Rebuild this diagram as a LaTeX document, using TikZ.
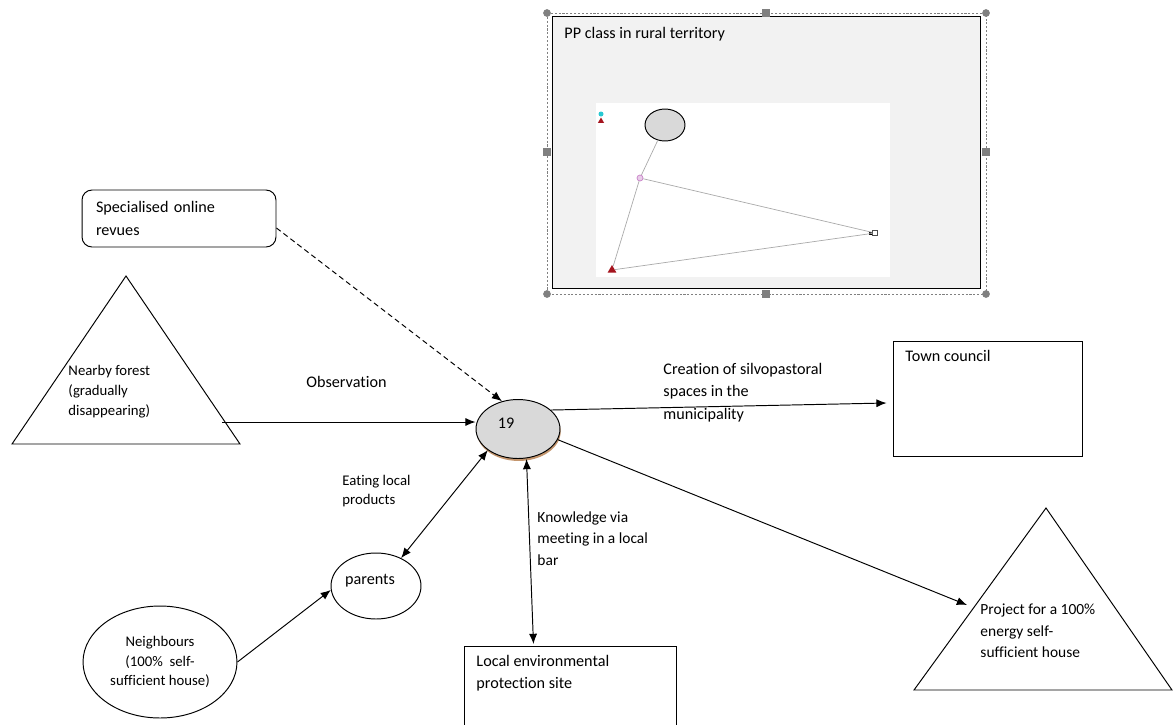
\documentclass[tikz,border=0pt]{standalone}
\usepackage{fontspec}
\setmainfont{Carlito}[Ligatures=CommonOff]
\usetikzlibrary{arrows.meta,shapes.geometric,shadows}

\definecolor{panelgray}{RGB}{242,242,242}
\definecolor{nodegray}{RGB}{217,217,217}
\definecolor{handlegray}{RGB}{128,128,128}
\definecolor{shadowtan}{RGB}{196,150,110}
\definecolor{keycyan}{RGB}{40,200,210}
\definecolor{markred}{RGB}{165,20,30}
\definecolor{markpink}{RGB}{200,130,200}
\definecolor{edgegray}{RGB}{170,170,170}

\begin{document}
\begin{tikzpicture}[x=0.02cm,y=-0.02cm,>={Latex[length=5.8pt,width=4.6pt]},line width=0.55pt,
    big/.style={font=\fontsize{9.2}{12.7}\selectfont},
    mid/.style={font=\fontsize{8.8}{12.2}\selectfont},
    small/.style={font=\fontsize{8.4}{11.2}\selectfont},
    txt/.style={inner sep=0pt,align=left,anchor=west},
    box/.style={draw,rectangle,inner sep=0pt},
    oval/.style={draw,ellipse,inner sep=0pt},
    handle/.style={fill=handlegray}]

  \useasboundingbox (0,0) rectangle (1173,724);

  % selected picture of the class network
  \draw[gray,line width=0.4pt,dash pattern=on 1.2pt off 1pt] (547,13) rectangle (986,294);
  \node[box,fill=panelgray,minimum width=8.56cm,minimum height=5.44cm,anchor=north west] (panel) at (552,16) {};
  \node[txt,big] (panel-title) at (564,34) {PP class in rural territory};
  \node[fill=white,inner sep=0pt,minimum width=5.88cm,minimum height=3.48cm,anchor=north west] (graph) at (596,103) {};

  \node[oval,fill=nodegray,minimum width=0.8cm,minimum height=0.64cm] (g-ego) at (665,125) {};
  \node[circle,fill=keycyan,inner sep=0pt,minimum size=0.1cm] (g-key1) at (601,114) {};
  \node[regular polygon,regular polygon sides=3,fill=markred,inner sep=0pt,minimum size=0.14cm] (g-key2) at (601,121) {};
  \node[circle,draw=markpink,fill=markpink!40,inner sep=0pt,minimum size=0.12cm,line width=0.4pt] (g-alter) at (640,178) {};
  \node[rectangle,draw=black!70,fill=white,inner sep=0pt,minimum size=0.1cm,line width=0.3pt] (g-hub) at (875,233) {};
  \fill (869,231.5) rectangle (872,234.5);
  \node[regular polygon,regular polygon sides=3,fill=markred,inner sep=0pt,minimum size=0.2cm] (g-far) at (612,270) {};
  \draw[edgegray,line width=0.4pt] (g-ego) -- (g-alter) -- (g-far) -- (g-hub) -- (g-alter);

  \foreach \x/\y in {547/13,986/13,547/294,986/294}
    \fill[handle] (\x,\y) circle (2.2pt);
  \foreach \x/\y in {766/13,547/152,986/152,766/294}
    \fill[handle] ([shift={(-2.2pt,-2.2pt)}]\x,\y) rectangle ++(4.4pt,4.4pt);

  % actors and places
  \node[box,rounded corners=0.2cm,big,text width=3.32cm,align=left,inner xsep=0.28cm,minimum height=1.14cm] (revues) at (179,218.5) {Specialised online\\revues};

  \coordinate (forest-top) at (126,276);
  \coordinate (forest-left) at (12,444);
  \coordinate (forest-right) at (240,444);
  \draw (forest-top) -- (forest-right) -- (forest-left) -- cycle;
  \node[txt,small] (forest) at (68,391.5) {Nearby forest\\(gradually\\disappearing)};
  \coordinate (forest-out) at (222,422);

  \node[oval,fill=nodegray,minimum width=1.68cm,minimum height=1.18cm,big,
        drop shadow={shadow xshift=0.4pt,shadow yshift=-1.4pt,fill=shadowtan,opacity=1}] (ego) at (518,429) {\raisebox{0.24cm}{19}\kern0.48cm};

  \node[box,minimum width=3.78cm,minimum height=2.3cm] (council) at (987.5,398.5) {};
  \node[txt,big] (council-txt) at (905,356) {Town council};

  \coordinate (house-top) at (1046,508);
  \coordinate (house-left) at (914,690);
  \coordinate (house-right) at (1172,690);
  \draw (house-top) -- (house-right) -- (house-left) -- cycle;
  \node[txt,mid] (house) at (980,631) {Project for a 100\%\\energy self-\\sufficient house};
  \coordinate (house-in) at (967,605);

  \node[oval,minimum width=1.8cm,minimum height=1.32cm,big] (parents) at (376,586) {\raisebox{0.28cm}{parents}\kern0.24cm};
  \node[oval,minimum width=3.08cm,minimum height=2.24cm,small,align=center] (neigh) at (160,662) {Neighbours\\(100\%\ \ self-\\sufficient house)};

  \node[box,minimum width=4.24cm,minimum height=2.28cm,anchor=north west] (site) at (464,646) {};
  \node[txt,big] (site-txt) at (476,673.5) {Local environmental\\protection site};

  % link labels
  \node[txt,big] (obs) at (306,382) {Observation};
  \node[txt,big] (creation) at (663,392.5) {Creation of silvopastoral\\spaces in the\\municipality};
  \node[txt,small] (eating) at (342,491) {Eating local\\products};
  \node[txt,mid] (bar) at (537,538.5) {Knowledge via\\meeting in a local\\bar};

  % links
  \draw[->] (forest-out) -- (ego.west |- forest-out);
  \draw[->,densely dashed] ([yshift=-0.19cm]revues.east) -- (ego.120);
  \draw[->] (ego.30) -- ([shift={(-0.12cm,-0.09cm)}]council.west);
  \draw[->] (ego.345) -- (house-in);
  \draw[<->] (parents.48) -- (ego.215);
  \draw[<->] ([xshift=0.17cm]ego.south) -- ([xshift=-0.74cm,yshift=0.04cm]site.north);
  \draw[->] (neigh.east) -- (parents.185);

\end{tikzpicture}
\end{document}
